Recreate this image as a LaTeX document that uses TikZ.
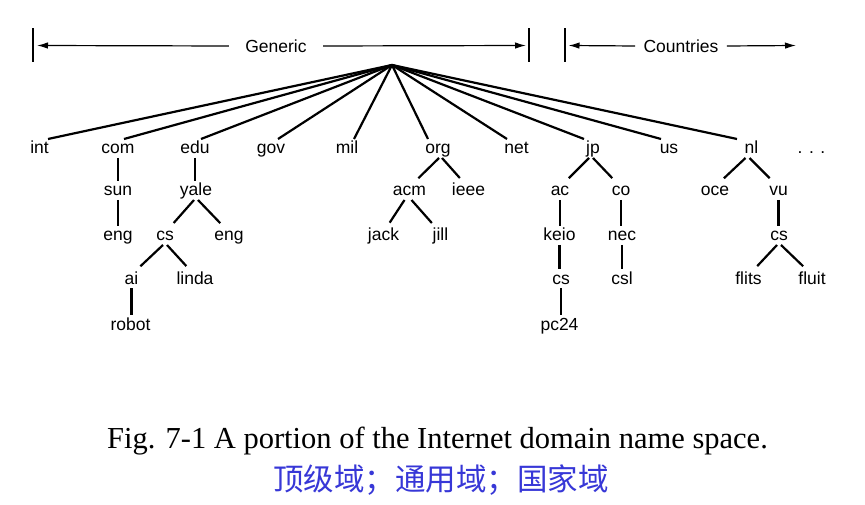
\documentclass[tikz,border=0pt]{standalone}
\usepackage{fontspec}
\setmainfont{Liberation Sans}
\newfontfamily\capfont{Liberation Serif}
\newfontfamily\cjk{Noto Sans CJK SC}
\usetikzlibrary{arrows.meta}
\definecolor{cnblue}{RGB}{55,55,215}
\begin{document}
\begin{tikzpicture}[x=1pt,y=-1pt,
  lbl/.style={font=\fontsize{17.5}{20}\selectfont, anchor=base, inner sep=0pt, outer sep=0pt, text height=15pt, text depth=4pt},
  brk/.style={font=\fontsize{17.5}{20}\selectfont, anchor=center, inner ysep=0pt, outer sep=0pt, text height=12.5pt, text depth=0pt},
  tline/.style={line width=2.2pt},
  ldiag/.style={tline, shorten >=4pt},
  bar/.style={line width=1.3pt},
  arr/.style={line width=1.2pt, -{Latex[length=11pt,width=6.5pt]}},
  capt/.style={font=\capfont\fontsize{30.5}{34}\selectfont, anchor=base, inner sep=0pt},
  cn/.style={font=\cjk\fontsize{30.5}{34}\selectfont, anchor=base, inner sep=0pt, text=cnblue}
]
\useasboundingbox (0,0) rectangle (865,505);
\fill[white] (0,0) rectangle (865,505);

% brackets
\draw[bar] (33,28.5) -- (33,62);
\draw[bar] (529,28.5) -- (529,62);
\draw[bar] (565,28.5) -- (565,62);
\node[brk, inner xsep=16.5pt] (gen) at (276,46) {Generic};
\node[brk, inner xsep=8.5pt] (cty) at (681,46) {Countries};
\coordinate (gtipL) at (37,45.5);
\coordinate (gtipR) at (526,45.5);
\coordinate (ctipL) at (568.5,45.5);
\coordinate (ctipR) at (796,45.5);
\draw[arr] (gen.west) -- (gtipL);
\draw[arr] (gen.east) -- (gtipR);
\draw[arr] (cty.west) -- (ctipL);
\draw[arr] (cty.east) -- (ctipR);

% root
\coordinate (root) at (392,65);

% level 1
\node[lbl] (int) at (39.5,154) {int};
\node[lbl] (com) at (118,154) {com};
\node[lbl] (edu) at (195,154) {edu};
\node[lbl] (gov) at (271,154) {gov};
\node[lbl] (mil) at (347,154) {mil};
\node[lbl] (org) at (438,154) {org};
\node[lbl] (net) at (516.5,154) {net};
\node[lbl] (jp) at (593,154) {jp};
\node[lbl] (us) at (669,154) {us};
\node[lbl] (nl) at (751.5,154) {nl};
\node[lbl] (dots) at (811.5,154) {. . .};

% level 2
\node[lbl] (sun) at (118,196) {sun};
\node[lbl] (yale) at (196,196) {yale};
\node[lbl] (acm) at (409.5,196) {acm};
\node[lbl] (ieee) at (468.5,196) {ieee};
\node[lbl] (ac) at (560,196) {ac};
\node[lbl] (co) at (621,196) {co};
\node[lbl] (oce) at (715,196) {oce};
\node[lbl] (vu) at (778.5,196) {vu};

% level 3
\node[lbl] (engA) at (118,241) {eng};
\node[lbl] (csA) at (165,241) {cs};
\node[lbl] (engB) at (229,241) {eng};
\node[lbl] (jack) at (383.5,241) {jack};
\node[lbl] (jill) at (440.5,241) {jill};
\node[lbl] (keio) at (559.5,241) {keio};
\node[lbl] (nec) at (622,241) {nec};
\node[lbl] (csC) at (779,241) {cs};

% level 4
\node[lbl] (ai) at (131.5,284) {ai};
\node[lbl] (linda) at (195,284) {linda};
\node[lbl] (csB) at (561,284) {cs};
\node[lbl] (csl) at (622,284) {csl};
\node[lbl] (flits) at (748.5,284) {flits};
\node[lbl] (fluit) at (812,284) {fluit};

% level 5
\node[lbl] (robot) at (130.5,330) {robot};
\node[lbl] (pc) at (559.5,330) {pc24};

% top-level connectors
\draw[tline] (root) -- ([xshift=8.5pt]int.north);
\draw[tline] (root) -- ([xshift=6pt]com.north);
\draw[tline] (root) -- ([xshift=6pt]edu.north);
\draw[tline] (root) -- ([xshift=7pt]gov.north);
\draw[tline] (root) -- ([xshift=7pt]mil.north);
\draw[tline] (root) -- ([xshift=-10pt]org.north);
\draw[tline] (root) -- ([xshift=-9.5pt]net.north);
\draw[tline] (root) -- ([xshift=-9pt]jp.north);
\draw[tline] (root) -- ([xshift=-8pt]us.north);
\draw[tline] (root) -- ([xshift=-14.5pt]nl.north);

% vertical connectors
\draw[tline] (com.south) -- (com.south |- sun.north);
\draw[tline] (sun.south) -- (sun.south |- engA.north);
\draw[tline] (edu.south) -- (edu.south |- yale.north);
\draw[tline] (ai.south) -- (ai.south |- robot.north);
\draw[tline] (ac.south) -- (ac.south |- keio.north);
\draw[tline] (keio.south) -- (keio.south |- csB.north);
\draw[tline] (csB.south) -- (csB.south |- pc.north);
\draw[tline] (co.south) -- (co.south |- nec.north);
\draw[tline] (nec.south) -- (nec.south |- csl.north);
\draw[tline] (vu.south) -- (vu.south |- csC.north);

% diagonal connectors
\draw[ldiag] ([xshift=-2pt]yale.south) -- ([xshift=6pt]csA.north);
\draw[ldiag] ([xshift=2pt]yale.south) -- ([xshift=-6pt]engB.north);
\draw[ldiag] ([xshift=-2pt]csA.south) -- ([xshift=6pt]ai.north);
\draw[ldiag] ([xshift=2pt]csA.south) -- ([xshift=-6pt]linda.north);
\draw[ldiag] ([xshift=1pt]org.south) -- ([xshift=6pt]acm.north);
\draw[ldiag] ([xshift=4pt]org.south) -- ([xshift=-6pt]ieee.north);
\draw[ldiag] ([xshift=-5pt]acm.south) -- ([xshift=4pt]jack.north);
\draw[ldiag] ([xshift=2pt]acm.south) -- ([xshift=-6pt]jill.north);
\draw[ldiag] ([xshift=-4pt]jp.south) -- ([xshift=6pt]ac.north);
\draw[ldiag] ([xshift=0pt]jp.south) -- ([xshift=-6pt]co.north);
\draw[ldiag] ([xshift=-6pt]nl.south) -- ([xshift=6pt]oce.north);
\draw[ldiag] ([xshift=-2pt]nl.south) -- ([xshift=-6pt]vu.north);
\draw[ldiag] ([xshift=-2pt]csC.south) -- ([xshift=6pt]flits.north);
\draw[ldiag] ([xshift=2pt]csC.south) -- ([xshift=-6pt]fluit.north);

% caption
\node[capt] (cap) at (437.5,448) {Fig. 7-1 A portion of the Internet domain name space.};
\node[cn] (cncap) at (441,490) {顶级域；通用域；国家域};
\end{tikzpicture}
\end{document}
